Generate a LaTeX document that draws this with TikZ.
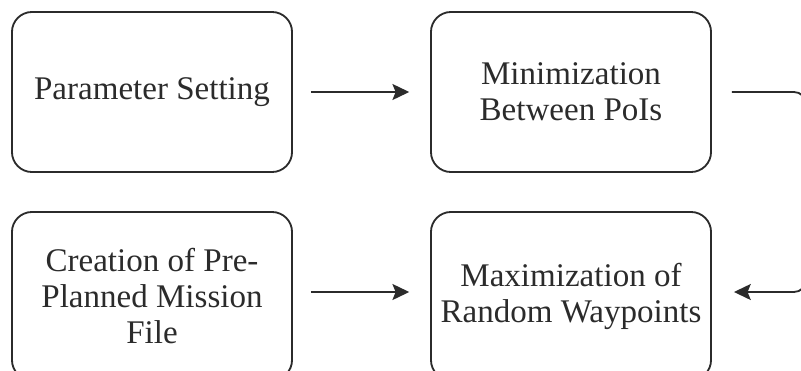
\documentclass[tikz,border=0pt]{standalone}
\usepackage{fontspec}
\setmainfont{Liberation Serif}
\usepackage{tikz}
\usetikzlibrary{arrows.meta,calc}
\definecolor{inkgray}{HTML}{2B2B2B}

\tikzset{
  stage/.style={draw=inkgray, line width=1.3pt, rounded corners=0.5cm,
    minimum width=7cm, minimum height=4cm, align=center, text=inkgray,
    font=\fontsize{23.5}{25.6}\selectfont},
  link/.style={draw=inkgray, line width=1.3pt,
    -{Stealth[length=0.42cm, width=0.4cm, inset=0.08cm]}}
}

\begin{document}
\begin{tikzpicture}[x=0.025cm, y=-0.025cm]
\useasboundingbox (0,0) rectangle (801,370);
\clip (0,0) rectangle (801,370);
\node[stage] (setting) at (152,92) {Parameter Setting};
\node[stage] (minim) at (571,92) {Minimization\\Between PoIs};
\node[stage, minimum height=4.2cm] (mission) at (152,296) {Creation of Pre-\\Planned Mission\\File};
\node[stage, minimum height=4.2cm] (maxim) at (571,296) {Maximization of\\Random Waypoints};
\coordinate (loop) at (806,0);
\coordinate (lower) at (0,292);
% connectors
\draw[link, shorten <=0.45cm, shorten >=0.52cm] (setting) -- (minim);
\draw[link, shorten <=0.45cm, shorten >=0.52cm] (mission.east |- lower) -- (maxim.west |- lower);
\draw[link, rounded corners=0.3cm, shorten <=0.5cm, shorten >=0.55cm]
  (minim.east) -- (minim.east -| loop) -- (lower -| loop) -- (maxim.east |- lower);
\end{tikzpicture}
\end{document}
